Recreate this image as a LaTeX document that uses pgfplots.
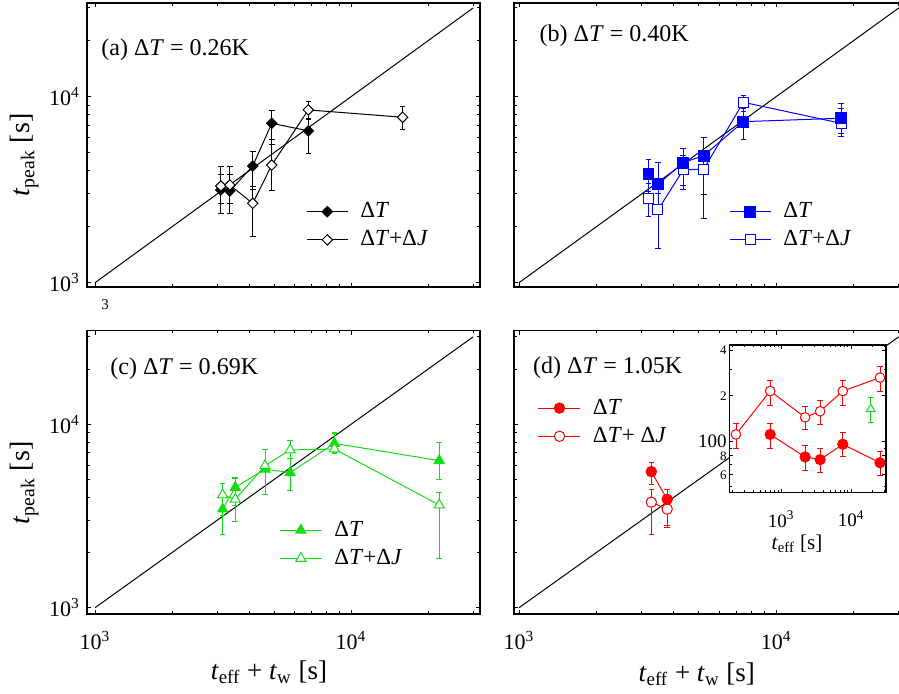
\documentclass[border=0pt]{standalone}
\usepackage{fontspec}
\setmainfont{Liberation Serif}
\usepackage{pgfplots}
\pgfplotsset{compat=1.18}
\definecolor{mygreen}{RGB}{20,220,20}
\definecolor{myblue}{RGB}{0,0,255}
\definecolor{myred}{RGB}{255,0,0}

\pgfdeclareplotmark{rdia}{%
 \pgfpathmoveto{\pgfqpoint{0pt}{\pgfplotmarksize}}%
 \pgfpathlineto{\pgfqpoint{\pgfplotmarksize}{0pt}}%
 \pgfpathlineto{\pgfqpoint{0pt}{-\pgfplotmarksize}}%
 \pgfpathlineto{\pgfqpoint{-\pgfplotmarksize}{0pt}}%
 \pgfpathclose\pgfusepathqfillstroke}

\newcommand{\lbl}[1]{\textit{t}\textsubscript{#1}}

\begin{document}
\begin{tikzpicture}

% (a)
\begin{axis}[xmode=log, ymode=log, scale only axis, anchor=south west,
  at={(43.5pt,203.5pt)}, width=196.5pt, height=142pt,
  xmin=930, xmax=31900, ymin=948, ymax=31900,
  axis line style={line width=0.6pt},
  major tick length=2.2pt, minor tick length=1.3pt,
  tick style={black,line width=0.45pt},
  tick label style={font=\fontsize{11}{13}\selectfont},
  xtick={1000,10000}, ytick={1000,10000},
  minor xtick={2000,3000,4000,5000,6000,7000,8000,9000,20000,30000},
  minor ytick={2000,3000,4000,5000,6000,7000,8000,9000,20000,30000},
  xticklabels={}, yticklabels={10\textsuperscript{3},10\textsuperscript{4}},
  ylabel={\lbl{peak} [s]},
  ylabel style={at={(axis description cs:-0.159,0.465)},anchor=center,font=\fontsize{14}{16}\selectfont},
  legend image code/.code={\draw[mark repeat=2,mark phase=2] plot coordinates {(0pt,0pt)(10.25pt,0pt)(20.5pt,0pt)}; \path (24.5pt,0pt);},
  legend style={draw=none,fill=none,inner sep=0pt,font=\fontsize{11.5}{13}\selectfont,row sep=1pt,
     at={(axis description cs:0.557,0.2155)},anchor=west},
  legend cell align=left]
\addplot[black, line width=0.5pt, forget plot] coordinates {(1000,1000) (30000,30000)};
\addplot[black, line width=0.5pt, mark=rdia, mark size=2.6pt, mark options={fill=black},
  error bars/y dir=both, error bars/y explicit, error bars/error mark=|,
  error bars/error mark options={mark size=1.4pt, line width=0.5pt}]
 table[x=x,y=y,y error plus=ep,y error minus=em] {
x y ep em
3100 3150 650 790
3360 3110 690 750
4130 4240 820 1090
4900 7190 1220 1690
6810 6550 1040 1580
};
\addlegendentry{Δ\textit{T}}
\addplot[black, line width=0.5pt, mark=rdia, mark size=2.6pt, mark options={fill=white},
  error bars/y dir=both, error bars/y explicit, error bars/error mark=|,
  error bars/error mark options={mark size=1.4pt, line width=0.5pt}]
 table[x=x,y=y,y error plus=ep,y error minus=em] {
x y ep em
3100 3310 900 640
3360 3350 860 680
4130 2670 610 900
4900 4290 1560 1170
6810 8490 910 990
15900 7750 1080 1070
};
\addlegendentry{Δ\textit{T}+Δ\textit{J}}
\node[anchor=west, inner sep=0pt, font=\fontsize{12}{14}\selectfont] at (axis description cs:0.0356,0.836) {(a) Δ\textit{T} = 0.26K};
\end{axis}
\node[font=\fontsize{7.5}{8}\selectfont, inner sep=0pt] at (52.5pt,194.5pt) {3};

% (b)
\begin{axis}[xmode=log, ymode=log, scale only axis, anchor=south west,
  at={(257pt,203.5pt)}, width=196.5pt, height=142pt,
  xmin=956, xmax=32300, ymin=948, ymax=31900,
  axis line style={line width=0.6pt},
  major tick length=2.2pt, minor tick length=1.3pt,
  tick style={black,line width=0.45pt},
  tick label style={font=\fontsize{11}{13}\selectfont},
  xtick={1000,10000}, ytick={1000,10000},
  minor xtick={2000,3000,4000,5000,6000,7000,8000,9000,20000,30000},
  minor ytick={2000,3000,4000,5000,6000,7000,8000,9000,20000,30000},
  xticklabels={}, yticklabels={},
  legend image code/.code={\draw[mark repeat=2,mark phase=2] plot coordinates {(0pt,0pt)(10.25pt,0pt)(20.5pt,0pt)}; \path (24.5pt,0pt);},
  legend style={draw=none,fill=none,inner sep=0pt,font=\fontsize{11.5}{13}\selectfont,row sep=1pt,
     at={(axis description cs:0.547,0.2155)},anchor=west},
  legend cell align=left, reverse legend]
\addplot[black, line width=0.5pt, forget plot] coordinates {(1000,1000) (30000,30000)};
\addplot[myblue, line width=0.5pt, mark=square*, mark size=2.5pt, mark options={fill=white},
  error bars/y dir=both, error bars/y explicit, error bars/error mark=|,
  error bars/error mark options={mark size=1.4pt, line width=0.5pt}]
 table[x=x,y=y,y error plus=ep,y error minus=em] {
x y ep em
3190 2850 570 590
3470 2460 570 940
4350 4040 760 690
5230 4080 920 1860
7460 9330 870 1030
17900 7190 1400 1090
};
\addlegendentry{Δ\textit{T}+Δ\textit{J}}
\addplot[myblue, line width=0.5pt, mark=square*, mark size=2.7pt, mark options={fill=myblue},
  error bars/y dir=both, error bars/y explicit, error bars/error mark=|,
  error bars/error mark options={mark size=1.4pt, line width=0.5pt}]
 table[x=x,y=y,y error plus=ep,y error minus=em] {
x y ep em
3190 3830 740 750
3470 3380 1060 350
4350 4420 820 1240
5230 4820 1230 1850
7460 7340 1330 1490
17900 7660 1480 1310
};
\addlegendentry{Δ\textit{T}}
\node[anchor=west, inner sep=0pt, font=\fontsize{12}{14}\selectfont] at (axis description cs:0.0644,0.8845) {(b) Δ\textit{T} = 0.40K};
\end{axis}

% (c)
\begin{axis}[xmode=log, ymode=log, scale only axis, anchor=south west,
  at={(43.5pt,40pt)}, width=196.5pt, height=141.65pt,
  xmin=930, xmax=31900, ymin=924, ymax=32400,
  axis line style={line width=0.6pt},
  major tick length=2.2pt, minor tick length=1.3pt,
  tick style={black,line width=0.45pt},
  tick label style={font=\fontsize{11}{13}\selectfont},
  xtick={1000,10000}, ytick={1000,10000},
  minor xtick={2000,3000,4000,5000,6000,7000,8000,9000,20000,30000},
  minor ytick={2000,3000,4000,5000,6000,7000,8000,9000,20000,30000},
  xticklabels={10\textsuperscript{3},10\textsuperscript{4}},
  yticklabels={10\textsuperscript{3},10\textsuperscript{4}},
  xticklabel style={yshift=-5pt},
  ylabel={\lbl{peak} [s]},
  ylabel style={at={(axis description cs:-0.159,0.462)},anchor=center,font=\fontsize{14}{16}\selectfont},
  xlabel={\lbl{eff} + \lbl{w} [s]},
  xlabel style={at={(axis description cs:0.463,-0.206)},anchor=center,font=\fontsize{13.5}{15}\selectfont},
  legend image code/.code={\draw[mark repeat=2,mark phase=2] plot coordinates {(0pt,0pt)(10.5pt,0pt)(21pt,0pt)}; \path (25pt,0pt);},
  legend style={draw=none,fill=none,inner sep=0pt,font=\fontsize{11.5}{13}\selectfont,row sep=1pt,
     at={(axis description cs:0.4885,0.246)},anchor=west},
  legend cell align=left]
\addplot[black, line width=0.5pt, forget plot] coordinates {(1000,1000) (30000,30000)};
\addplot[mygreen, line width=0.5pt, mark=triangle*, mark size=2.9pt, mark options={fill=mygreen},
  error bars/y dir=both, error bars/y explicit, error bars/error mark=|,
  error bars/error mark options={mark size=1.4pt, line width=0.5pt}]
 table[x=x,y=y,y error plus=ep,y error minus=em] {
x y ep em
3150 3450 700 930
3530 4530 610 940
4610 5690 1620 1570
5780 5450 1080 1100
8610 7870 1130 870
22100 6340 1610 1370
};
\addlegendentry{Δ\textit{T}}
\addplot[mygreen, line width=0.5pt, mark=triangle*, mark size=2.9pt, mark options={fill=white},
  error bars/y dir=both, error bars/y explicit, error bars/error mark=|,
  error bars/error mark options={mark size=1.4pt, line width=0.5pt}]
 table[x=x,y=y,y error plus=ep,y error minus=em] {
x y ep em
3150 4120 610 920
3530 3900 1180 960
4610 5940 1370 1820
5780 7250 960 720
8610 7330 1600 380
22100 3630 610 1770
};
\addlegendentry{Δ\textit{T}+Δ\textit{J}}
\node[anchor=west, inner sep=0pt, font=\fontsize{12}{14}\selectfont] at (axis description cs:0.0585,0.864) {(c) Δ\textit{T} = 0.69K};
\end{axis}

% (d)
\begin{axis}[xmode=log, ymode=log, scale only axis, anchor=south west,
  at={(257pt,40pt)}, width=196.5pt, height=141.65pt,
  xmin=956, xmax=32300, ymin=924, ymax=32400,
  axis line style={line width=0.6pt},
  major tick length=2.2pt, minor tick length=1.3pt,
  tick style={black,line width=0.45pt},
  tick label style={font=\fontsize{11}{13}\selectfont},
  xtick={1000,10000}, ytick={1000,10000},
  minor xtick={2000,3000,4000,5000,6000,7000,8000,9000,20000,30000},
  minor ytick={2000,3000,4000,5000,6000,7000,8000,9000,20000,30000},
  xticklabels={10\textsuperscript{3},10\textsuperscript{4}},
  yticklabels={},
  xticklabel style={yshift=-5pt},
  xlabel={\lbl{eff} + \lbl{w} [s]},
  xlabel style={at={(axis description cs:0.465,-0.212)},anchor=center,font=\fontsize{13.5}{15}\selectfont},
  legend image code/.code={\draw[mark repeat=2,mark phase=2] plot coordinates {(0pt,0pt)(10.5pt,0pt)(21pt,0pt)}; \path (25pt,0pt);},
  legend style={draw=none,fill=none,inner sep=0pt,font=\fontsize{11.5}{13}\selectfont,row sep=1pt,
     at={(axis description cs:0.060,0.677)},anchor=west},
  legend cell align=left, reverse legend]
\addplot[black, line width=0.5pt, forget plot] coordinates {(1000,1000) (30000,30000)};
\addplot[myred, line width=0.5pt, mark=*, mark size=2.6pt, mark options={fill=white},
  error bars/y dir=both, error bars/y explicit, error bars/error mark=|,
  error bars/error mark options={mark size=1.4pt, line width=0.5pt}]
 table[x=x,y=y,y error plus=ep,y error minus=em] {
x y ep em
3270 3760 630 1250
3770 3450 570 700
};
\addlegendentry{Δ\textit{T}+ Δ\textit{J}}
\addplot[myred, line width=0.5pt, mark=*, mark size=2.6pt, mark options={fill=myred},
  error bars/y dir=both, error bars/y explicit, error bars/error mark=|,
  error bars/error mark options={mark size=1.4pt, line width=0.5pt}]
 table[x=x,y=y,y error plus=ep,y error minus=em] {
x y ep em
3270 5520 660 850
3770 3900 520 1110
};
\addlegendentry{Δ\textit{T}}
\node[anchor=west, inner sep=0pt, font=\fontsize{12}{14}\selectfont] at (axis description cs:0.0475,0.870) {(d) Δ\textit{T} = 1.05K};
\end{axis}

% inset
\begin{axis}[xmode=log, ymode=log, scale only axis, anchor=south west,
  at={(364.65pt,100.75pt)}, width=78.35pt, height=73.75pt,
  xmin=181, xmax=31600, ymin=45.8, ymax=434,
  axis background/.style={fill=white},
  axis line style={line width=0.6pt},
  major tick length=2pt, minor tick length=1.2pt,
  tick style={black,line width=0.45pt},
  tick label style={font=\fontsize{9.5}{11}\selectfont},
  xtick={1000,10000}, xticklabels={10\textsuperscript{3},10\textsuperscript{4}},
  minor xtick={200,300,400,500,600,700,800,900,2000,3000,4000,5000,6000,7000,8000,9000,20000,30000},
  ytick={60,80,100,200,400},
  yticklabels={{\fontsize{6.5}{7}\selectfont 6},{\fontsize{6.5}{7}\selectfont 8},100\hspace{2.4pt},{\fontsize{6.5}{7}\selectfont 2},{\fontsize{6.5}{7}\selectfont 4}},
  minor ytick={50,70,90,300},
  xticklabel style={yshift=-5.5pt},
  yticklabel style={inner xsep=1.2pt},
  xlabel={\lbl{eff} [s]},
  xlabel style={at={(axis description cs:0.432,-0.349)},anchor=center,font=\fontsize{10.5}{12}\selectfont}]
\addplot[myred, line width=0.5pt, mark=*, mark size=2.4pt, mark options={fill=white},
  error bars/y dir=both, error bars/y explicit, error bars/error mark=|,
  error bars/error mark options={mark size=1.4pt, line width=0.5pt}]
 table[x=x,y=y,y error plus=ep,y error minus=em] {
x y ep em
225 111 20 21
696 215 39 42
2200 144 25 24
3610 158 29 29
7600 215 39 42
25900 264 48 49
};
\addplot[myred, line width=0.5pt, mark=*, mark size=2.55pt, mark options={fill=myred},
  error bars/y dir=both, error bars/y explicit, error bars/error mark=|,
  error bars/error mark options={mark size=1.4pt, line width=0.5pt}]
 table[x=x,y=y,y error plus=ep,y error minus=em] {
x y ep em
696 111 20 21
2200 78.7 14.4 14.5
3610 75.6 14.6 13.7
7600 95.5 18.5 16.8
25900 72.1 13.7 12.7
};
\addplot[mygreen, line width=0.5pt, mark=triangle*, mark size=2.5pt, mark options={fill=white},
  error bars/y dir=both, error bars/y explicit, error bars/error mark=|,
  error bars/error mark options={mark size=1.4pt, line width=0.5pt}]
 table[x=x,y=y,y error plus=ep,y error minus=em] {
x y ep em
19100 163 31 29
};
\end{axis}

\pgfresetboundingbox
\path[use as bounding box] (0pt,0pt) rectangle (449.5pt,347pt);
\end{tikzpicture}
\end{document}
